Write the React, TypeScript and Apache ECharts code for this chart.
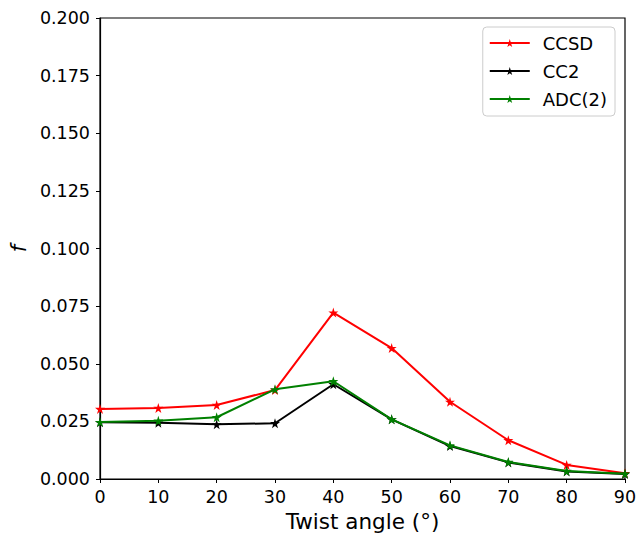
import React, { useEffect, useRef } from "react";
import * as echarts from "echarts";

const angles = [0, 10, 20, 30, 40, 50, 60, 70, 80, 90];
const ccsd = [0.0304, 0.0308, 0.0321, 0.0386, 0.0722, 0.0568, 0.0335, 0.0168, 0.0061, 0.0025];
const cc2 = [0.0246, 0.0244, 0.0237, 0.0242, 0.0411, 0.0259, 0.0143, 0.0072, 0.0033, 0.0022];
const adc2 = [0.0247, 0.0253, 0.0268, 0.0389, 0.0424, 0.0259, 0.0146, 0.0074, 0.0035, 0.0023];

const STAR = "path://M50,0 L61,35 L98,35 L68,57 L79,91 L50,70 L21,91 L32,57 L2,35 L39,35 Z";
const FONT = "DejaVu Sans";

export default function App() {
  const ref = useRef<HTMLDivElement>(null);
  useEffect(() => {
    if (!ref.current) return;
    const chart = echarts.init(ref.current, null, { renderer: "svg" });
    const mk = (name: string, data: number[], color: string) => ({
      name,
      type: "line",
      data: angles.map((a, i) => [a, data[i]]),
      symbol: STAR,
      symbolSize: 10,
      lineStyle: { color, width: 2 },
      itemStyle: { color },
      z: name === "ADC(2)" ? 3 : name === "CC2" ? 2 : 1,
    });
    chart.setOption({
      animation: false,
      textStyle: { fontFamily: FONT },
      grid: {
        left: 100, right: 14, top: 18, bottom: 56,
        containLabel: false, outerBoundsMode: "none",
        show: true, borderColor: "#000", borderWidth: 1.2, backgroundColor: "transparent",
      },
      legend: {
        right: 24,
        top: 27,
        orient: "vertical",
        backgroundColor: "#fff",
        borderColor: "#ccc",
        borderWidth: 1,
        borderRadius: 4,
        padding: [7, 8, 8, 6],
        itemWidth: 40,
        itemHeight: 10,
        itemGap: 10,
        textStyle: { fontFamily: FONT, fontSize: 18, color: "#000", padding: [0, 0, 0, 8] },
        data: ["CCSD", "CC2", "ADC(2)"],
      },
      xAxis: {
        type: "value",
        min: 0,
        max: 90,
        interval: 10,
        name: "Twist angle (°)",
        nameLocation: "middle",
        nameGap: 31,
        nameTextStyle: { fontFamily: FONT, fontSize: 21.5, color: "#000" },
        axisLine: { show: true, lineStyle: { color: "#000", width: 1.2 } },
        axisTick: { show: true, length: 4, lineStyle: { color: "#000" } },
        axisLabel: { fontFamily: FONT, fontSize: 17.5, color: "#000", margin: 9 },
        splitLine: { show: false },
      },
      yAxis: {
        type: "value",
        min: 0,
        max: 0.2,
        interval: 0.025,
        name: "f",
        nameLocation: "middle",
        nameGap: 68,
        nameTextStyle: { fontFamily: FONT, fontSize: 21, fontStyle: "italic", color: "#000" },
        axisLine: { show: true, lineStyle: { color: "#000", width: 1.2 } },
        axisTick: { show: true, length: 4, lineStyle: { color: "#000" } },
        axisLabel: { fontFamily: FONT, fontSize: 17.5, color: "#000", margin: 10, formatter: (v: number) => v.toFixed(3) },
        splitLine: { show: false },
      },
      series: [mk("CCSD", ccsd, "#ff0000"), mk("CC2", cc2, "#000000"), mk("ADC(2)", adc2, "#008000")],
    });
    return () => chart.dispose();
  }, []);
  return <div ref={ref} style={{ width: 639, height: 535, position: "absolute", left: 0, top: 0 }} />;
}
